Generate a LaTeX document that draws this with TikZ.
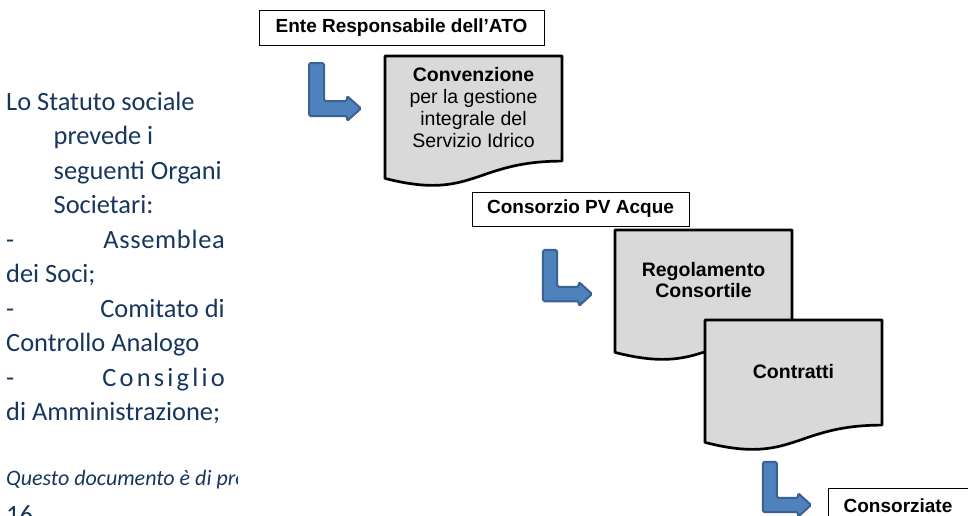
\documentclass[tikz,border=0pt]{standalone}
\usepackage{fontspec}
\setmainfont{Liberation Sans}
\newfontfamily\calib{Carlito}
\definecolor{navy}{HTML}{17365D}
\definecolor{docgray}{HTML}{D9D9D9}
\definecolor{arrfill}{HTML}{4F81BD}
\definecolor{arrline}{HTML}{3A6193}
\begin{document}
\begin{tikzpicture}[x=1pt,y=-1pt,
  lefttxt/.style={inner sep=0, anchor=base west, font=\calib\fontsize{26.4}{31}\selectfont, text=navy},
  righttxt/.style={inner sep=0, anchor=base east, font=\calib\fontsize{26.4}{31}\selectfont, text=navy},
  labelbox/.style={draw=black, line width=1pt, fill=white, inner sep=0, font=\bfseries\fontsize{19}{22}\selectfont},
  docshape/.style={draw=black, line width=2.7pt, fill=docgray, line join=round},
  doctext/.style={inner sep=0, align=center, font=\fontsize{19.5}{21.7}\selectfont},
  arrowsty/.style={draw=arrline, line width=2pt, fill=arrfill, rounded corners=1.5pt}]
\useasboundingbox (0,0) rectangle (968,515);

% left text
\node[lefttxt] (l1) at (6,110) {Lo Statuto sociale};
\node[lefttxt] (l2) at (53.5,144.5) {prevede i};
\node[lefttxt] (l3) at (53.5,179) {seguenti Organi};
\node[lefttxt] (l4) at (53.5,213.5) {Societari:};
\node[lefttxt] (l5a) at (6,248) {-};
\node[righttxt] (l5b) at (225,248) {A\kern.7pt s\kern.7pt s\kern.7pt e\kern.7pt m\kern.7pt b\kern.7pt l\kern.7pt e\kern.7pt a};
\node[lefttxt] (l6) at (6,282.5) {dei Soci;};
\node[lefttxt] (l7a) at (6,317) {-};
\node[righttxt] (l7b) at (225,317) {Comitato di};
\node[lefttxt] (l8) at (6,351.5) {Controllo Analogo};
\node[lefttxt] (l9a) at (6,386) {-};
\node[righttxt] (l9b) at (225,386) {C\kern3.2pt o\kern3.2pt n\kern3.2pt s\kern3.2pt i\kern3.2pt g\kern3.2pt l\kern3.2pt i\kern3.2pt o};
\node[lefttxt] (l10) at (6,420.5) {di Amministrazione;};
\begin{scope}
  \clip (0,455) rectangle (237,500);
  \node[lefttxt, font=\calib\itshape\fontsize{22}{26}\selectfont] (q) at (6,485) {Questo documento è di proprietà};
\end{scope}
\node[lefttxt] (pg) at (6,523) {16};

% label boxes
\node[labelbox, minimum width=285pt, minimum height=35pt] (ente) at (401.5,27.5) {Ente Responsabile dell’ATO};
\node[labelbox, minimum width=217pt, minimum height=34pt] (cons) at (580.5,209) {Consorzio PV Acque};

% documents (w=177, h=131)
\draw[docshape] (385,56) -- (562,56) -- (562,161.1) .. controls (473.5,161.1) and (473.5,201.1) .. (385,178.4) -- cycle;
\node[doctext] (conv) at (473.5,107.5) {\textbf{Convenzione}\\per la gestione\\integrale del\\Servizio Idrico};

\draw[docshape] (615,230) -- (792,230) -- (792,335.1) .. controls (703.5,335.1) and (703.5,375.1) .. (615,352.4) -- cycle;
\node[doctext, font=\bfseries\fontsize{19.5}{21.7}\selectfont] (reg) at (703.5,280) {Regolamento\\Consortile};

\draw[docshape] (705,320) -- (882,320) -- (882,425.1) .. controls (793.5,425.1) and (793.5,465.1) .. (705,442.4) -- cycle;
\node[doctext, font=\bfseries\fontsize{19.5}{21.7}\selectfont] (contr) at (793.5,372) {Contratti};

% bottom box
\node[labelbox, minimum width=140pt, minimum height=35pt] (consz) at (898,505.5) {Consorziate};

% bent arrows
\begin{scope}[shift={(308,62)}]
  \draw[arrowsty] (1,1) -- (16,1) -- (16,39) -- (39,39) -- (39,34) -- (53,46.5) -- (39,59) -- (39,54) -- (1,54) -- cycle;
\end{scope}
\begin{scope}[shift={(542,249)}, xscale=0.944, yscale=0.968]
  \draw[arrowsty] (1,1) -- (16,1) -- (16,39) -- (39,39) -- (39,34) -- (53,46.5) -- (39,59) -- (39,54) -- (1,54) -- cycle;
\end{scope}
\begin{scope}[shift={(762,461)}, xscale=0.926, yscale=0.946]
  \draw[arrowsty] (1,1) -- (16,1) -- (16,39) -- (39,39) -- (39,34) -- (53,46.5) -- (39,59) -- (39,54) -- (1,54) -- cycle;
\end{scope}
\end{tikzpicture}
\end{document}
